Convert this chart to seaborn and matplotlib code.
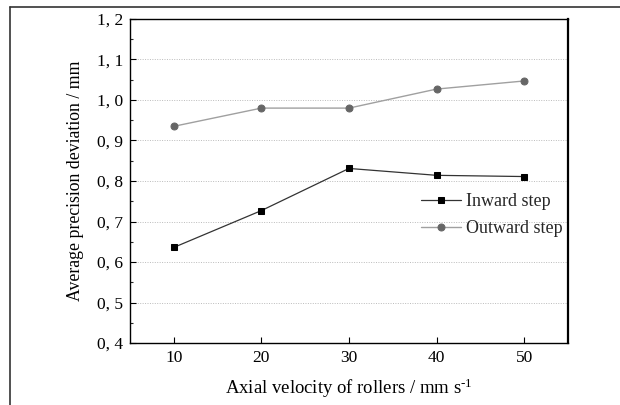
import matplotlib
matplotlib.use("Agg")
import matplotlib.pyplot as plt
import seaborn as sns
import pandas as pd
import numpy as np
from matplotlib.lines import Line2D
from matplotlib.ticker import FixedLocator, MultipleLocator, FuncFormatter

velocity = [10, 20, 30, 40, 50]
inward = [0.636, 0.727, 0.831, 0.814, 0.811]
outward = [0.935, 0.980, 0.980, 1.027, 1.047]
y_ticks = [0.4, 0.5, 0.6, 0.7, 0.8, 0.9, 1.0, 1.1, 1.2]
x_ticks = [10, 20, 30, 40, 50]

sns.set_theme(style="white")
plt.rcParams['font.family'] = ['Liberation Serif', 'DejaVu Serif']
plt.rcParams['mathtext.fontset'] = 'custom'
plt.rcParams['mathtext.rm'] = 'Liberation Serif'
plt.rcParams['mathtext.it'] = 'Liberation Serif:italic'

df = pd.DataFrame({
    "velocity": velocity * 2,
    "value": inward + outward,
    "series": ["Inward step"] * 5 + ["Outward step"] * 5,
})

fig = plt.figure(figsize=(6.2, 4.05), dpi=100)
ax = fig.add_axes([130 / 620, 1 - 343 / 405, 438 / 620, 324 / 405])

for ys in y_ticks[1:-1]:
    ax.axhline(ys, color="#bbbbbb", lw=0.7, ls=(0, (1, 1.5)), zorder=0)

sns.lineplot(data=df[df.series == "Inward step"], x="velocity", y="value", ax=ax,
             color="#333333", lw=0.9, marker="s", markersize=4.6,
             markerfacecolor="black", markeredgecolor="black",
             label="Inward step")
sns.lineplot(data=df[df.series == "Outward step"], x="velocity", y="value", ax=ax,
             color="#a0a0a0", lw=1.0, marker="o", markersize=5,
             markerfacecolor="#666666", markeredgecolor="#666666",
             label="Outward step")

ax.set_xlim(5, 55)
ax.set_ylim(0.4, 1.2)
ax.xaxis.set_major_locator(FixedLocator(x_ticks))
ax.yaxis.set_major_locator(FixedLocator(y_ticks))
ax.yaxis.set_minor_locator(MultipleLocator(0.05))
ax.yaxis.set_major_formatter(FuncFormatter(lambda v, p: f"{v:.1f}".replace(".", ", ")))
ax.tick_params(axis="both", which="major", direction="in", length=4, width=0.8,
               labelsize=12.5, colors="black", pad=5)
ax.tick_params(axis="y", which="minor", direction="in", length=2.5, width=0.8, left=True)
ax.tick_params(axis="x", which="major", bottom=True)
ax.tick_params(axis="y", which="major", left=True)

for s in ax.spines.values():
    s.set_color("black")
    s.set_linewidth(1.0)
ax.spines["right"].set_linewidth(1.6)

ax.set_xlabel(r"Axial velocity of rollers / mm s$^{\text{-}1}$", fontsize=13.5, labelpad=8, color="black")
ax.set_ylabel("Average precision deviation / mm", fontsize=12.8, labelpad=9, color="black")

leg = ax.legend(loc="center left", bbox_to_anchor=(0.648, 0.395), frameon=False,
                fontsize=13, handlelength=2.2, handletextpad=0.3, labelspacing=0.55,
                borderaxespad=0)

fig.add_artist(Line2D([10 / 620, 1.0], [1 - 6.5 / 405, 1 - 6.5 / 405],
                      transform=fig.transFigure, color="#333333", lw=1.2))
fig.add_artist(Line2D([10 / 620, 10 / 620], [0, 1 - 6.5 / 405],
                      transform=fig.transFigure, color="#333333", lw=1.2))

fig.savefig("out.png", dpi=100)
